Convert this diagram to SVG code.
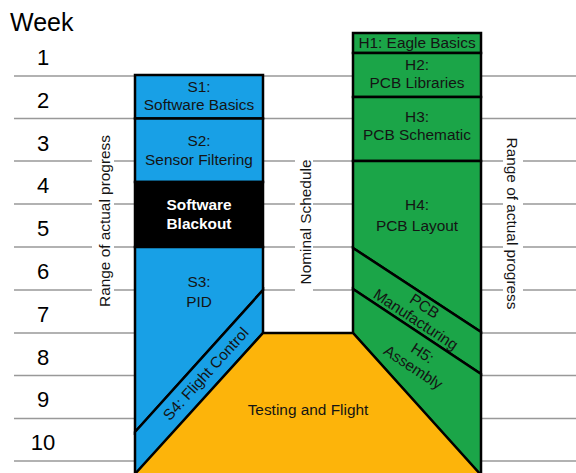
<svg xmlns="http://www.w3.org/2000/svg" width="576" height="473" viewBox="0 0 576 473">
<style>
.grid{stroke:#999;stroke-width:1.5;fill:none}
.sw{fill:#18A0E6;stroke:#000;stroke-width:2.5;stroke-linejoin:miter}
.hw{fill:#1BA548;stroke:#000;stroke-width:2.5}
.tf{fill:#FDB40A;stroke:#000;stroke-width:2.5}
.bk{fill:#000;stroke:#000;stroke-width:2.5}
text{font-family:"Liberation Sans",Arial,sans-serif;fill:#141414}
.lb{font-size:15.4px;text-anchor:middle}
.wk{font-size:22px;text-anchor:middle;fill:#000}
.wh{font-size:15.4px;text-anchor:middle;font-weight:bold;fill:#fff}
</style>
<rect width="576" height="473" fill="#fff"/>
<g id="grid" class="grid">
<path d="M14 76H576M14 118.5H576M14 333H576M14 375.5H576M14 418.5H576M14 461H576"/>
<path d="M14 161H92M114 161H295M313 161H503M523 161H576"/>
<path d="M14 204H92M114 204H295M313 204H503M523 204H576"/>
<path d="M14 247H92M114 247H295M313 247H503M523 247H576"/>
<path d="M14 290H92M114 290H295M313 290H503M523 290H576"/>
</g>
<g id="weeks">
<text x="10" y="31" style="font-size:25px;fill:#000">Week</text>
<text class="wk" x="43" y="65">1</text>
<text class="wk" x="43" y="108">2</text>
<text class="wk" x="43" y="151">3</text>
<text class="wk" x="43" y="193">4</text>
<text class="wk" x="43" y="236">5</text>
<text class="wk" x="43" y="279">6</text>
<text class="wk" x="43" y="322">7</text>
<text class="wk" x="43" y="365">8</text>
<text class="wk" x="43" y="407">9</text>
<text class="wk" x="43" y="450">10</text>
</g>
<g id="labels">
<text class="lb" transform="translate(110,221) rotate(-90)">Range of actual progress</text>
<text class="lb" transform="translate(311,222) rotate(-90)">Nominal Schedule</text>
<text class="lb" transform="translate(507,223.5) rotate(90)">Range of actual progress</text>
</g>
<g id="S1"><rect class="sw" x="135" y="75" width="128" height="43.5"/>
<text class="lb" x="199" y="92">S1:</text><text class="lb" x="199" y="110">Software Basics</text></g>
<g id="S2"><rect class="sw" x="135" y="118.5" width="128" height="63.5"/>
<text class="lb" x="199" y="146">S2:</text><text class="lb" x="199" y="165">Sensor Filtering</text></g>
<g id="blackout"><rect class="bk" x="135" y="182" width="128" height="65"/>
<text class="wh" x="199" y="210">Software</text><text class="wh" x="199" y="229">Blackout</text></g>
<g id="S3"><polygon class="sw" points="135,247 263,247 263,290 135,432"/>
<text class="lb" x="199" y="287">S3:</text><text class="lb" x="199" y="307">PID</text></g>
<g id="S4"><polygon class="sw" points="135,432 263,290 263,333 135,475"/>
<text class="lb" transform="translate(206,374) rotate(-47.8)" y="5">S4: Flight Control</text></g>
<g id="H1"><rect class="hw" x="353" y="33" width="128" height="20"/>
<text class="lb" x="417" y="48">H1: Eagle Basics</text></g>
<g id="H2"><rect class="hw" x="353" y="53" width="128" height="44"/>
<text class="lb" x="417" y="70">H2:</text><text class="lb" x="417" y="88">PCB Libraries</text></g>
<g id="H3"><rect class="hw" x="353" y="97" width="128" height="64"/>
<text class="lb" x="417" y="122">H3:</text><text class="lb" x="417" y="140">PCB Schematic</text></g>
<g id="H4"><polygon class="hw" points="353,161 481,161 481,332 353,248"/>
<text class="lb" x="417" y="210">H4:</text><text class="lb" x="417" y="231">PCB Layout</text></g>
<g id="PCBManufacturing"><polygon class="hw" points="353,248 481,332 481,374 353,289"/>
<text class="lb" transform="translate(420,313) rotate(33.4)"><tspan x="0" y="-3">PCB</tspan><tspan x="0" y="13">Manufacturing</tspan></text></g>
<g id="H5"><polygon class="hw" points="353,289 481,374 481,476 353,333"/>
<text class="lb" transform="translate(418,360) rotate(33.4)"><tspan x="0" y="-3">H5:</tspan><tspan x="0" y="14">Assembly</tspan></text></g>
<g id="testing"><polygon class="tf" points="263,333 353,333 481,475 134,475"/>
<text class="lb" x="308" y="415">Testing and Flight</text></g>
</svg>
